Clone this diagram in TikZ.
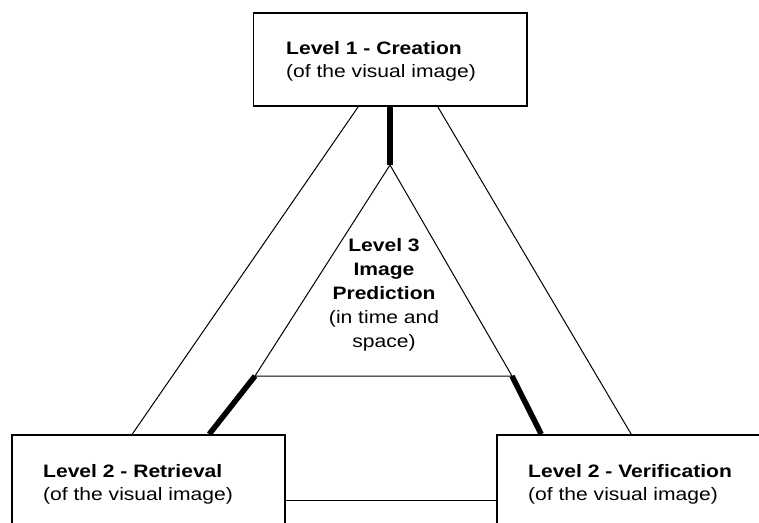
\documentclass[tikz,border=0pt]{standalone}
\usepackage{fontspec}
\setmainfont{Liberation Sans}[FakeStretch=1.17]
\usetikzlibrary{calc}
\begin{document}
\begin{tikzpicture}[x=1pt,y=-1pt,
  levelbox/.style={draw, line width=1.6pt, rectangle, inner sep=0pt},
  thinline/.style={line width=1pt},
  thickline/.style={line width=5.5pt},
  label/.style={inner sep=0pt, anchor=base west, align=left,
    font=\fontsize{18}{22.5}\selectfont},
  centerlabel/.style={inner sep=0pt, anchor=base, align=center,
    font=\fontsize{18}{24}\selectfont}]
  \useasboundingbox (0,0) rectangle (759,522);
  \clip (0,0) rectangle (759,522);

  % the three level boxes
  \node[levelbox, minimum width=273.5pt, minimum height=93pt] (top) at (390.25,59.5) {};
  \node[levelbox, minimum width=273pt, minimum height=120pt] (left) at (148.5,495) {};
  \node[levelbox, minimum width=273pt, minimum height=120pt] (right) at (633.5,495) {};

  % inner triangle (Level 3)
  \coordinate (apex) at (390,165);
  \coordinate (tl) at (255,376);
  \coordinate (tr) at (512,376);
  \draw[thinline] (tl) -- (apex) -- (tr) -- cycle;

  % outer links between the boxes
  \draw[thinline] ($(top.south west)+(105.5,0)$) -- ($(left.north west)+(121,0)$);
  \draw[thinline] ($(top.south east)+(-90,0)$) -- ($(right.north west)+(135,0)$);
  \draw[thinline] ($(left.east)+(0,5)$) -- ($(right.west)+(0,5)$);

  % heavy links from the triangle corners to the boxes
  \draw[thickline] (top.south -| apex) -- (apex);
  \draw[thickline] (tl) -- ($(left.north west)+(198,0)$);
  \draw[thickline] (tr) -- ($(right.north west)+(45,0)$);

  % texts (anchored on the baseline of their last line)
  \node[label] (ttop) at (286,77) {\textbf{Level 1 - Creation}\\(of the visual image)};
  \node[label] (tleft) at (43,500) {\textbf{Level 2 - Retrieval}\\(of the visual image)};
  \node[label] (tright) at (528,500) {\textbf{Level 2 - Verification}\\(of the visual image)};
  \node[centerlabel] (tmid) at (384,347.7) {\textbf{Level 3}\\\textbf{Image}\\\textbf{Prediction}\\(in time and\\space)};
\end{tikzpicture}
\end{document}
